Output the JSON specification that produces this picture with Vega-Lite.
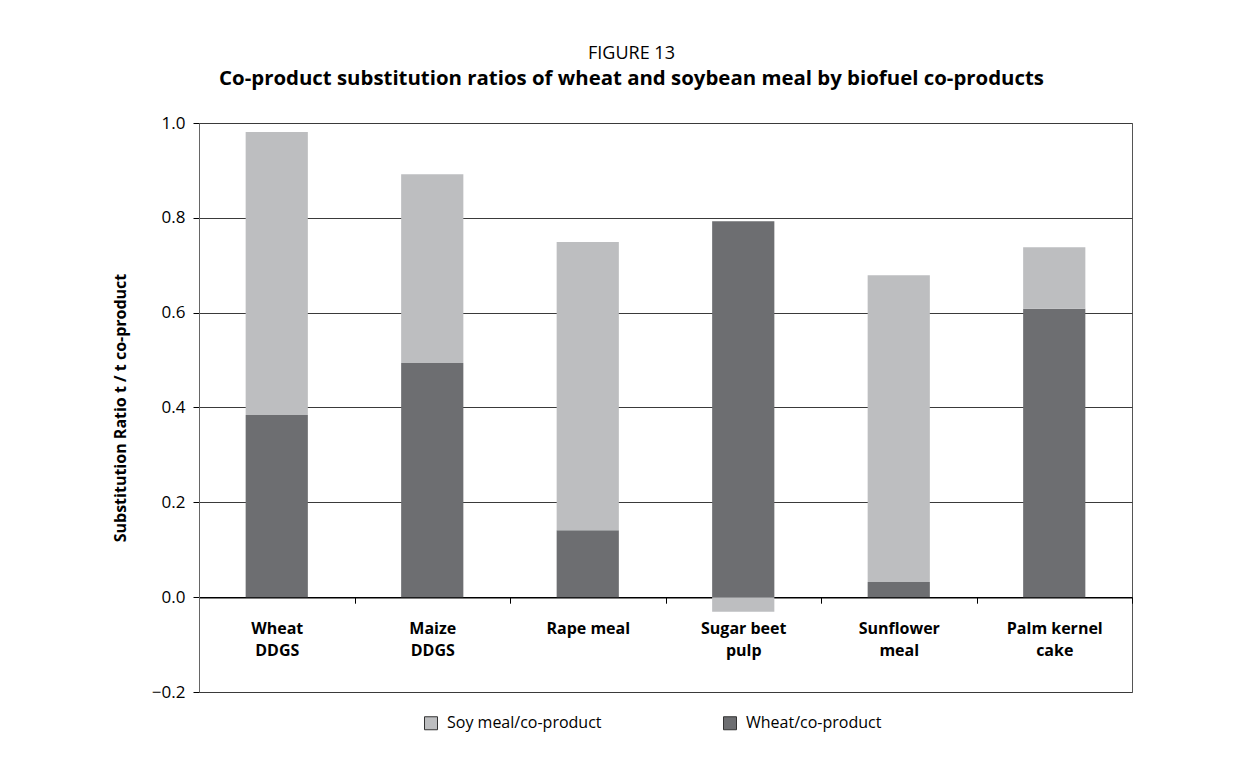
{
  "$schema": "https://vega.github.io/schema/vega-lite/v6.json",
  "width": 933,
  "height": 569,
  "autosize": {"type": "none"},
  "padding": {"left": 199, "top": 123, "right": 125, "bottom": 71},
  "background": "white",
  "title": {
    "text": "FIGURE 13",
    "subtitle": "Co-product substitution ratios of wheat and soybean meal by biofuel co-products",
    "anchor": "middle",
    "dx": -34,
    "font": "Open Sans",
    "fontSize": 18,
    "fontWeight": "normal",
    "color": "#000000",
    "subtitleFont": "Open Sans",
    "subtitleFontSize": 20.4,
    "subtitleFontWeight": "bold",
    "subtitleColor": "#000000",
    "subtitlePadding": 6,
    "offset": 25
  },
  "data": {
    "values": [
      {"product": "Wheat DDGS", "series": "Wheat/co-product", "value": 0.384, "ord": 1},
      {"product": "Wheat DDGS", "series": "Soy meal/co-product", "value": 0.597, "ord": 2},
      {"product": "Maize DDGS", "series": "Wheat/co-product", "value": 0.494, "ord": 1},
      {"product": "Maize DDGS", "series": "Soy meal/co-product", "value": 0.398, "ord": 2},
      {"product": "Rape meal", "series": "Wheat/co-product", "value": 0.141, "ord": 1},
      {"product": "Rape meal", "series": "Soy meal/co-product", "value": 0.608, "ord": 2},
      {"product": "Sugar beet pulp", "series": "Wheat/co-product", "value": 0.793, "ord": 1},
      {"product": "Sugar beet pulp", "series": "Soy meal/co-product", "value": -0.031, "ord": 2},
      {"product": "Sunflower meal", "series": "Wheat/co-product", "value": 0.032, "ord": 1},
      {"product": "Sunflower meal", "series": "Soy meal/co-product", "value": 0.647, "ord": 2},
      {"product": "Palm kernel cake", "series": "Wheat/co-product", "value": 0.608, "ord": 1},
      {"product": "Palm kernel cake", "series": "Soy meal/co-product", "value": 0.130, "ord": 2}
    ]
  },
  "mark": {"type": "bar", "width": {"band": 0.4}},
  "encoding": {
    "x": {
      "field": "product",
      "type": "nominal",
      "sort": null,
      "scale": {"paddingInner": 0, "paddingOuter": 0},
      "axis": {
        "title": null,
        "labelAngle": 0,
        "offset": -94.8,
        "tickBand": "extent",
        "labelExpr": "datum.value == 'Wheat DDGS' ? ['Wheat', 'DDGS'] : datum.value == 'Maize DDGS' ? ['Maize', 'DDGS'] : datum.value == 'Sugar beet pulp' ? ['Sugar beet', 'pulp'] : datum.value == 'Sunflower meal' ? ['Sunflower', 'meal'] : datum.value == 'Palm kernel cake' ? ['Palm kernel', 'cake'] : datum.label",
        "labelFont": "Open Sans",
        "labelFontSize": 16,
        "labelFontWeight": "bold",
        "labelColor": "#000000",
        "labelPadding": 17,
        "labelLineHeight": 22,
        "labelBaseline": "top",
        "domainColor": "#000000",
        "domainWidth": 1.5,
        "tickColor": "#000000",
        "tickSize": 6,
        "grid": false
      }
    },
    "y": {
      "field": "value",
      "type": "quantitative",
      "stack": "zero",
      "scale": {"domain": [-0.2, 1.0], "nice": false},
      "axis": {
        "title": "Substitution Ratio t / t co-product",
        "titleFont": "Open Sans",
        "titleFontSize": 16,
        "titleFontWeight": "bold",
        "titleColor": "#000000",
        "titlePadding": 23,
        "values": [-0.2, 0, 0.2, 0.4, 0.6, 0.8, 1.0],
        "format": ".1f",
        "labelFont": "Open Sans",
        "labelFontSize": 17,
        "labelColor": "#000000",
        "labelPadding": 8,
        "tickColor": "#000000",
        "tickSize": 6,
        "domainColor": "#666666",
        "grid": true,
        "gridColor": "#3a3a3a",
        "gridWidth": 1
      }
    },
    "color": {
      "field": "series",
      "type": "nominal",
      "scale": {
        "domain": ["Soy meal/co-product", "Wheat/co-product"],
        "range": ["#bdbec0", "#6d6e71"]
      },
      "legend": {
        "title": null,
        "orient": "none",
        "legendX": 224,
        "legendY": 592,
        "direction": "horizontal",
        "symbolType": "square",
        "symbolSize": 169,
        "symbolStrokeColor": "#333333",
        "symbolStrokeWidth": 1,
        "labelFont": "Open Sans",
        "labelFontSize": 16,
        "labelColor": "#000000",
        "labelOffset": 8,
        "columnPadding": 119
      }
    },
    "order": {"field": "ord", "type": "quantitative"}
  },
  "config": {
    "view": {"stroke": "#555555", "strokeWidth": 1}
  }
}
